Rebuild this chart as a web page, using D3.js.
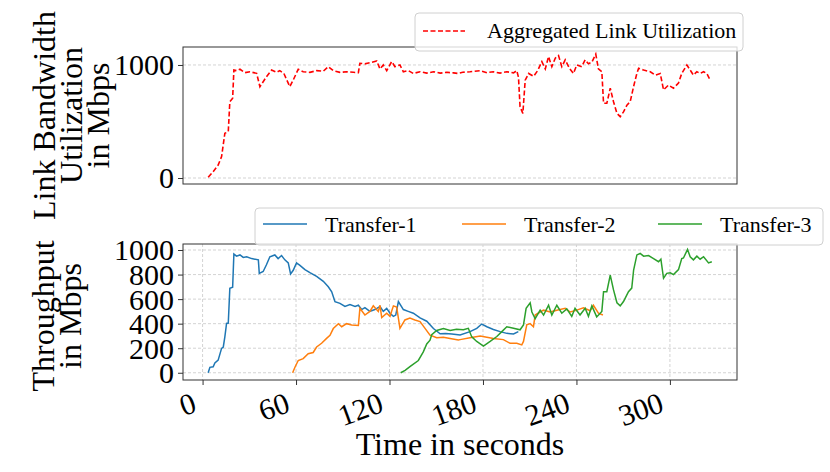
<!DOCTYPE html>
<html>
<head>
<meta charset="utf-8">
<script src="https://cdn.jsdelivr.net/npm/d3@7"></script>
<style>
  body { margin: 0; background: #fff; }
  svg, svg text { font-family: "Liberation Serif", "Times New Roman", serif; }
</style>
</head>
<body>
<div id="chart"></div>
<script>
// Readings: [time in seconds, Mbps]
const aggregated = [[3.6,6],[6.8,56],[10,115],[12.2,189],[14.3,395],[16.5,410],[17.5,675],[19.3,705],[20.1,955],[21.8,950],[24,962],[27.2,932],[30.4,940],[34.7,926],[36.8,808],[38.9,852],[41,896],[44.3,955],[47.5,935],[49.6,950],[52.2,925],[56,808],[58.2,867],[61.4,962],[64.6,940],[68.9,935],[73.2,950],[77.5,945],[80.7,985],[83.9,950],[88.2,935],[92.5,940],[96.8,935],[100,932],[101,1015],[104.2,1010],[107.4,1020],[111.8,1035],[113.9,965],[116,1000],[118.2,950],[121.4,1030],[123.5,985],[126.7,1000],[128.9,940],[132.1,950],[135.3,925],[139.6,940],[143.9,928],[148.2,940],[152.5,928],[156.8,935],[161.1,930],[164.2,925],[167,935],[171.7,940],[178.2,950],[182.5,932],[186.7,940],[191,928],[195.3,940],[199.6,930],[201.7,950],[202.8,890],[203.8,630],[205.6,572],[207.1,865],[209.3,925],[212.5,900],[215.1,950],[217.8,1030],[220,965],[222.1,1075],[224.2,985],[226.4,1060],[228.5,1083],[230.6,985],[232.8,1045],[235.5,970],[238.1,925],[240.2,1000],[243.4,985],[245.6,1045],[247.7,1010],[249.9,1025],[252.4,1097],[254.1,965],[256.3,940],[257.4,661],[259.5,661],[261.7,794],[263.8,675],[266,572],[268.1,543],[270.2,585],[272.4,645],[274.5,675],[276.7,810],[278.8,926],[279.9,970],[283.1,955],[287.4,940],[290.6,910],[293.8,925],[295.9,780],[299.1,822],[302.3,795],[305.5,840],[307.6,925],[310.9,1000],[313,955],[315.1,910],[317.3,940],[319.4,925],[321.6,940],[323.7,925],[325.5,876]]

const transfer1 = [[3.6,0],[4.7,44],[6.8,49],[7.9,80],[10,103],[12.2,199],[13.3,210],[14.3,293],[15.4,402],[16.5,405],[17.5,688],[19.3,696],[20.1,967],[21.8,950],[24,960],[26.1,940],[28.3,945],[31.5,930],[35.8,920],[36.4,810],[38.9,825],[41,880],[43.2,945],[46.4,960],[48.5,930],[50.7,955],[52.8,920],[55,895],[56.5,805],[58.2,835],[60.3,895],[62.5,875],[65.7,840],[68.9,815],[73.2,785],[77.5,745],[80.7,700],[82.9,660],[85,579],[88.2,565],[91.4,540],[94.6,555],[97.9,540],[100,550],[102.1,515],[104.2,530],[107.4,500],[110.6,515],[113.9,540],[116,500],[118.2,525],[120.3,485],[122.5,460],[124,470],[125.7,580],[128.9,515],[132,500],[135.3,485],[139.6,447],[143.9,420],[148.2,360],[152.5,318],[156,320],[160,315],[165.3,308],[171.7,335],[176,362],[179.2,397],[182.5,375],[186.7,353],[191,335],[195.3,321],[199.6,316],[202.7,335]]

const transfer2 = [[57.8,0],[59.3,45],[61.4,100],[64.6,115],[67.8,155],[71,165],[73.2,210],[76.4,240],[79.6,280],[81.8,305],[83.9,360],[87.2,400],[89.3,375],[92.5,400],[95.7,390],[100,385],[101,525],[104.2,470],[107.4,500],[109.6,545],[112.8,500],[113.9,550],[115,450],[118.2,485],[120.3,460],[122.5,545],[124.6,535],[126.7,362],[129.9,430],[133.1,445],[136.3,430],[139.6,417],[142.8,362],[146,307],[150.3,285],[154.6,290],[158.9,280],[164.2,267],[165.3,270],[171.7,285],[178.2,300],[182.5,290],[186.7,280],[193.1,270],[197.4,240],[201.7,240],[204.9,227],[206,255],[208.1,390],[210.3,400],[212.4,375],[213.5,470],[216.7,495],[218.9,510],[223.1,495],[227.4,510],[232.8,525],[236,495],[240.2,510],[244.5,530],[248.8,505],[250.9,550],[254.1,485],[257,470]]

const transfer3 = [[127.2,0],[130,20],[133.1,50],[138.5,100],[141.7,170],[143.9,235],[146,265],[147.1,310],[150.3,345],[154.6,360],[158.9,345],[163,355],[167.4,350],[170.6,362],[172.8,292],[176,255],[180.3,218],[184.6,255],[188.9,295],[192.1,335],[195.3,375],[199.6,362],[203.8,350],[206,390],[207.7,525],[210.3,570],[211.4,495],[213.5,440],[216.7,510],[218.9,470],[222.1,550],[224.2,470],[227.4,550],[230.6,485],[233.8,520],[237,460],[239.1,525],[242.3,470],[245.6,525],[247.7,460],[249.9,545],[253,455],[256.3,500],[257.4,660],[259.5,660],[261.7,796],[263.8,675],[266,570],[268.1,545],[270.2,580],[273.4,660],[275.5,690],[276.7,837],[278.8,960],[280.9,972],[283.1,950],[286.3,955],[289.5,930],[292.7,905],[294.2,925],[295.9,770],[298,810],[300.2,815],[302.3,800],[305.5,840],[307.6,930],[308.7,935],[311.3,1005],[313,945],[315.1,920],[317.3,950],[319.4,925],[321.6,945],[324.8,895],[326.9,905]]

const timeTicks = [0, 60, 120, 180, 240, 300]
const utilTicks = [0, 1000]
const throughputTicks = [0, 200, 400, 600, 800, 1000]
const transferNames = ['Transfer-1', 'Transfer-2', 'Transfer-3']

const width = 830, height = 472
const left = 183, right = 737
const topPanel = { top: 47, bottom: 184 }
const botPanel = { top: 244, bottom: 380 }
const colors = ['#1f77b4', '#ff7f0e', '#2ca02c']
const serif = '"Liberation Serif", "Times New Roman", serif'

const svg = d3.select('#chart').append('svg')
  .attr('width', width)
  .attr('height', height)

// Shared time axis, padded 5% like matplotlib.
const tMin = d3.min([aggregated, transfer1, transfer2, transfer3], s => s[0][0])
const tMax = d3.max([aggregated, transfer1, transfer2, transfer3], s => s[s.length - 1][0])
const tPad = (tMax - tMin) * 0.05
const x = d3.scaleLinear().domain([tMin - tPad, tMax + tPad]).range([left, right])

const yTop = d3.scaleLinear().domain([-53, 1159]).range([topPanel.bottom, topPanel.top])
const yBot = d3.scaleLinear().domain([-59, 1049]).range([botPanel.bottom, botPanel.top])

function panel(p, y, ticks, vgrid) {
  const g = svg.append('g')
  // Grid.
  g.selectAll('.hg').data(ticks).enter().append('line')
    .attr('x1', left).attr('x2', right)
    .attr('y1', d => y(d)).attr('y2', d => y(d))
    .attr('stroke', '#c8c8c8').attr('stroke-width', 0.8)
    .attr('stroke-dasharray', '3,2')
  if (vgrid) {
    g.selectAll('.vg').data(timeTicks).enter().append('line')
      .attr('y1', p.top).attr('y2', p.bottom)
      .attr('x1', d => x(d)).attr('x2', d => x(d))
      .attr('stroke', '#c8c8c8').attr('stroke-width', 0.8)
      .attr('stroke-dasharray', '3,2')
  }
  // Y axis.
  const ax = g.append('g')
    .attr('transform', 'translate(' + left + ',0)')
    .call(d3.axisLeft(y).tickValues(ticks).tickFormat(d3.format('d')).tickSize(5).tickPadding(4))
    .attr('font-family', serif)
  ax.select('.domain').remove()
  ax.selectAll('line').attr('stroke', '#333')
  ax.selectAll('text').attr('font-size', 30).attr('fill', '#000')
    .attr('dy', '0.33em')
  return g
}

panel(topPanel, yTop, utilTicks, false)
panel(botPanel, yBot, throughputTicks, true)

// Lines.
const lineTop = d3.line().x(d => x(d[0])).y(d => yTop(d[1]))
const lineBot = d3.line().x(d => x(d[0])).y(d => yBot(d[1]))

svg.append('path')
  .datum(aggregated)
  .attr('d', lineTop)
  .attr('fill', 'none')
  .attr('stroke', '#ff0000')
  .attr('stroke-width', 1.6)
  .attr('stroke-dasharray', '5,2.5')

const transfers = [transfer1, transfer2, transfer3]
transfers.forEach((s, i) => {
  svg.append('path')
    .datum(s)
    .attr('d', lineBot)
    .attr('fill', 'none')
    .attr('stroke', colors[i])
    .attr('stroke-width', 1.5)
})

// X axis under the bottom panel.
const xAx = svg.append('g')
  .attr('transform', 'translate(0,' + botPanel.bottom + ')')
  .call(d3.axisBottom(x).tickValues(timeTicks).tickFormat(d3.format('d')).tickSize(5))
  .attr('font-family', serif)
xAx.select('.domain').remove()
xAx.selectAll('line').attr('stroke', '#333')
xAx.selectAll('text')
  .attr('font-size', 30).attr('fill', '#000')
  .attr('text-anchor', 'end')
  .attr('y', 0).attr('dy', 0)
  .attr('transform', 'translate(-5,31) rotate(-20)')

// Frames.
;[topPanel, botPanel].forEach(p => {
  svg.append('rect')
    .attr('x', left).attr('y', p.top)
    .attr('width', right - left).attr('height', p.bottom - p.top)
    .attr('fill', 'none').attr('stroke', '#333').attr('stroke-width', 1)
})

// Axis labels.
function yLabel(lines, cy, x0) {
  const t = svg.append('text')
    .attr('transform', 'translate(' + x0 + ',' + cy + ') rotate(-90)')
    .attr('text-anchor', 'middle')
    .attr('font-size', 32)
  lines.forEach((s, i) => {
    t.append('tspan').attr('x', 0).attr('dy', i === 0 ? 0 : 27).text(s)
  })
}
yLabel(['Link Bandwidth', 'Utilization', 'in Mbps'], (topPanel.top + topPanel.bottom) / 2, 55)
yLabel(['Throughput', 'in Mbps'], (botPanel.top + botPanel.bottom) / 2 + 4, 54)

svg.append('text')
  .attr('x', (left + right) / 2).attr('y', 455)
  .attr('text-anchor', 'middle')
  .attr('font-size', 32)
  .text('Time in seconds')

// Legends.
function legendBox(x0, y0, w, h) {
  svg.append('rect')
    .attr('x', x0).attr('y', y0).attr('width', w).attr('height', h)
    .attr('rx', 4)
    .attr('fill', '#fff').attr('fill-opacity', 0.8)
    .attr('stroke', '#d0d0d0').attr('stroke-width', 1)
}

legendBox(415, 13, 328, 38)
svg.append('line')
  .attr('x1', 423).attr('x2', 465).attr('y1', 31).attr('y2', 31)
  .attr('stroke', '#ff0000').attr('stroke-width', 1.5)
  .attr('stroke-dasharray', '5,2.5')
svg.append('text')
  .attr('x', 487).attr('y', 38)
  .attr('font-size', 22)
  .text('Aggregated Link Utilization')

legendBox(255, 208, 568, 37)
const legX = [263, 462, 658]
transferNames.forEach((name, i) => {
  svg.append('line')
    .attr('x1', legX[i]).attr('x2', legX[i] + 44)
    .attr('y1', 224).attr('y2', 224)
    .attr('stroke', colors[i]).attr('stroke-width', 1.5)
  svg.append('text')
    .attr('x', legX[i] + 62).attr('y', 232)
    .attr('font-size', 22)
    .text(name)
})
</script>
</body>
</html>
